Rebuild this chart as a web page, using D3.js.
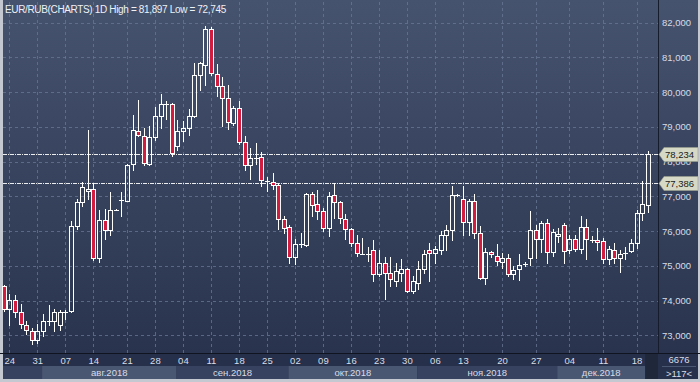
<!DOCTYPE html>
<html><head><meta charset="utf-8">
<script src="https://cdn.jsdelivr.net/npm/d3@7/dist/d3.min.js"></script>
<style>html,body{margin:0;padding:0;background:#c5cad3;}svg{display:block;}</style>
</head><body><svg id="c" width="700" height="382"></svg>
<script>
const openV  = [74.42,73.75,74.01,73.67,73.31,73.11,72.87,73.13,73.41,73.42,73.30,73.67,73.69,76.16,76.84,77.16,77.22,75.22,76.33,76.03,76.62,76.90,76.88,77.93,78.89,78.73,77.93,78.71,79.30,79.66,79.66,78.44,78.89,78.97,79.30,80.50,80.78,81.81,80.52,80.18,79.83,79.11,79.54,78.56,77.89,78.10,78.13,77.43,77.41,77.34,76.35,76.12,75.26,75.62,75.59,77.08,76.77,76.57,76.10,77.05,76.84,76.35,76.05,75.67,75.35,75.34,75.47,74.76,75.09,74.78,74.56,74.78,74.90,74.28,74.52,74.92,75.47,75.38,75.47,75.88,76.02,77.03,76.91,76.27,76.86,75.95,74.66,75.40,75.28,75.12,75.23,74.76,74.90,75.05,75.23,76.03,75.76,76.22,75.41,75.86,76.17,75.45,75.78,75.49,76.12,75.78,75.73,75.71,75.19,75.47,75.23,75.37,75.44,75.66,76.53,76.74];
const highV  = [74.45,74.18,74.15,73.91,73.42,73.21,73.32,73.61,73.87,73.75,73.73,73.73,76.29,76.91,77.41,78.92,77.39,76.60,76.64,77.12,76.63,77.12,77.94,79.35,79.78,78.97,79.03,79.57,79.95,79.74,79.68,79.21,79.16,79.51,80.83,80.88,81.897,81.89,80.80,80.43,80.21,79.59,79.75,78.75,78.39,78.55,78.29,77.56,77.67,77.39,76.43,76.17,75.76,75.95,77.10,77.12,77.18,76.67,77.12,77.39,76.88,76.48,76.10,75.90,75.79,75.53,75.74,75.47,75.26,75.26,75.09,75.21,74.95,74.71,75.14,75.47,75.66,75.57,76.00,76.19,77.29,77.08,77.31,76.91,77.08,76.14,75.52,75.44,75.62,75.37,75.33,75.00,75.33,75.11,76.59,76.19,76.29,76.35,76.05,76.10,76.22,75.90,75.90,76.43,76.35,75.86,76.10,75.81,75.57,75.65,75.47,75.54,75.78,76.60,77.45,78.30];
const lowV   = [73.70,73.29,73.53,73.22,73.03,72.745,72.79,72.99,73.29,73.13,73.16,73.48,73.66,76.05,76.72,76.91,75.17,75.11,75.76,75.90,76.60,76.43,76.86,77.77,78.73,77.89,77.89,78.63,78.97,79.22,78.15,78.34,78.58,78.78,79.28,80.05,80.21,80.50,79.88,79.03,78.94,79.06,78.52,77.77,77.50,77.94,77.31,77.15,77.20,76.07,75.95,75.09,75.04,75.54,75.57,76.43,76.35,76.00,75.86,76.38,76.22,75.76,75.57,75.28,75.33,75.14,74.56,74.71,74.04,74.42,74.42,74.56,74.25,74.23,74.34,74.80,74.56,75.09,75.33,75.47,75.74,77.00,75.88,75.90,75.81,74.61,74.47,75.26,75.01,74.95,74.71,74.61,74.59,75.00,75.01,75.23,75.40,75.09,75.28,75.69,75.09,75.38,75.43,75.38,75.21,75.68,75.47,75.09,75.04,75.09,74.82,75.21,75.41,75.51,76.31,76.55];
const closeV = [73.75,74.01,73.68,73.32,73.15,72.87,73.13,73.42,73.45,73.68,73.68,73.69,76.16,76.84,77.26,77.22,75.22,76.33,76.03,76.62,76.61,76.91,77.91,78.92,78.78,77.96,78.71,79.30,79.66,79.67,78.25,78.89,78.97,79.30,80.50,80.83,81.81,80.55,80.19,79.83,79.14,79.54,78.56,77.89,78.11,78.11,77.46,77.44,77.34,76.35,76.10,75.26,75.64,75.63,77.08,76.75,76.57,76.10,77.00,76.84,76.38,76.05,75.67,75.38,75.34,75.35,74.76,75.09,74.78,74.63,74.85,74.90,74.28,74.55,74.92,75.35,75.38,75.49,75.88,76.02,77.05,77.04,76.27,76.86,75.95,74.66,75.41,75.33,75.14,75.23,74.76,74.88,75.02,75.06,76.03,75.76,76.22,75.41,75.98,75.93,75.44,75.76,75.49,76.12,75.78,75.73,75.68,75.19,75.49,75.23,75.35,75.38,75.66,76.53,76.77,78.234];

const tickLabels = ["24","31","07","14","21","28","04","11","18","25","02","09","16","23","30","06","13","20","27","04","11","18"];
const tickIndex  = [1,6,11,16,22,27,32,37,42,47,52,57,62,67,72,77,82,89,95,101,107,113];
const monthLabels = ["","авг.2018","сен.2018","окт.2018","ноя.2018","дек.2018"];
const monthStart  = [0,7,31,51,74,99];
const yTicks = [73,74,75,76,77,78,79,80,81,82];
const refLines = [78.234, 77.386];
const titleText = "EUR/RUB(CHARTS) 1D High = 81,897 Low = 72,745";
const barCount = "6676";
const visibleBars = ">117<";

const W = 700, H = 382;
const plotL = 3, plotR = 658, plotT = 0, plotB = 353;
const svg = d3.select("#c");
const fmt = v => d3.format(",.3f")(v).replace(/\./g,"#").replace(/,/g,",").replace("#",",").replace(/^(\d+),(\d{3})$/, "$1,$2");
const fmtTick = v => (v).toFixed(3).replace(".", ",");

const x = d3.scaleLinear().domain([0, 115]).range([3.7, 647.7]);
const y = d3.scaleLinear().domain([73, 82]).range([335.3, 22.7]);

const defs = svg.append("defs");
const g1 = defs.append("linearGradient").attr("id","bg").attr("x1",0).attr("y1",0).attr("x2",0).attr("y2",1);
g1.append("stop").attr("offset","0%").attr("stop-color","#46536f");
g1.append("stop").attr("offset","100%").attr("stop-color","#29334d");

// frame
svg.append("rect").attr("x",0).attr("y",0).attr("width",W).attr("height",H).attr("fill","#c3c8d1");
// plot + right panel background
svg.append("rect").attr("x",plotL).attr("y",0).attr("width",698-plotL).attr("height",plotB).attr("fill","url(#bg)");

// grid
const grid = svg.append("g").attr("shape-rendering","crispEdges");
grid.selectAll("line.h").data(yTicks).join("line")
  .attr("x1",plotL).attr("x2",plotR).attr("y1",d=>Math.round(y(d))+0.5).attr("y2",d=>Math.round(y(d))+0.5)
  .attr("stroke","#6a7896").attr("stroke-opacity",0.75).attr("stroke-dasharray","3,3");
grid.selectAll("line.v").data(tickIndex).join("line")
  .attr("x1",d=>Math.round(x(d))+0.5).attr("x2",d=>Math.round(x(d))+0.5).attr("y1",2).attr("y2",plotB)
  .attr("stroke","#6a7896").attr("stroke-opacity",0.75).attr("stroke-dasharray","3,3");

// reference dash-dot lines
svg.append("g").selectAll("line").data(refLines).join("line")
  .attr("x1",plotL).attr("x2",plotR).attr("y1",d=>Math.round(y(d))+0.5).attr("y2",d=>Math.round(y(d))+0.5)
  .attr("stroke","#ffffff").attr("stroke-opacity",0.9).attr("stroke-dasharray","4,1,1,1").attr("shape-rendering","crispEdges");

// candles
const data = openV.map((o,i)=>({i,o,h:highV[i],l:lowV[i],c:closeV[i]}));
const cg = svg.append("g").attr("shape-rendering","crispEdges");
data.forEach(d=>{
  const cx = Math.round(x(d.i));
  const top = Math.round(y(Math.max(d.o,d.c)));
  const bot = Math.round(y(Math.min(d.o,d.c)));
  const yh = Math.round(y(d.h)), yl = Math.round(y(d.l));
  const up = d.c >= d.o;
  if (bot - top < 2) {
    const yy = Math.round((top+bot)/2);
    cg.append("line").attr("x1",cx+0.5).attr("x2",cx+0.5).attr("y1",yh).attr("y2",yl+1).attr("stroke","#fff");
    cg.append("line").attr("x1",cx-2).attr("x2",cx+3).attr("y1",yy+0.5).attr("y2",yy+0.5).attr("stroke","#fff");
  } else {
    if (yh < top) cg.append("line").attr("x1",cx+0.5).attr("x2",cx+0.5).attr("y1",yh).attr("y2",top).attr("stroke","#fff");
    if (yl > bot) cg.append("line").attr("x1",cx+0.5).attr("x2",cx+0.5).attr("y1",bot).attr("y2",yl+1).attr("stroke","#fff");
    cg.append("rect").attr("x",cx-1.5).attr("y",top+0.5).attr("width",4).attr("height",bot-top)
      .attr("fill", up ? "none" : "#d21c40").attr("stroke","#fff").attr("stroke-width",1);
  }
});

// right panel
svg.append("line").attr("x1",658.5).attr("x2",658.5).attr("y1",0).attr("y2",379).attr("stroke","#151c2c").attr("stroke-width",1);
svg.append("g").selectAll("text").data(yTicks).join("text")
  .attr("x",662).attr("y",d=>y(d)+3.5).text(d=>d3.format(",")(d*1000).replace(",", ","))
  .attr("font-family","'Liberation Sans', Arial, sans-serif").attr("font-size","9.5px").attr("fill","#d8dde6");

// price tags
const tags = svg.append("g");
refLines.forEach(v=>{
  const yy = Math.round(y(v));
  tags.append("path").attr("d",`M659,${yy+0.5} L664,${yy-6.5} L698,${yy-6.5} L698,${yy+7.5} L664,${yy+7.5} Z`)
    .attr("fill","#d6d9c6").attr("stroke","#9aa08c").attr("stroke-width",0.6);
  tags.append("text").attr("x",665).attr("y",yy+4).text(fmtTick(v))
    .attr("font-family","'Liberation Sans', Arial, sans-serif").attr("font-size","9.5px").attr("fill","#1a1a1a");
});

// x axis rows
svg.append("rect").attr("x",plotL).attr("y",plotB).attr("width",698-plotL).attr("height",26).attr("fill","#27304a");
svg.append("line").attr("x1",0).attr("x2",W).attr("y1",353.5).attr("y2",353.5).attr("stroke","#0f1420");
const mEnd = monthStart.slice(1).map(s=>x(s)-0.8).concat([x(115)-2.5]);
const bands = svg.append("g");
monthStart.forEach((s,k)=>{
  const x0 = k===0 ? plotL : x(s)-0.8;
  const x1 = mEnd[k];
  bands.append("rect").attr("x",x0).attr("y",366).attr("width",x1-x0).attr("height",13)
    .attr("fill", k%2===1 ? "#4a5773" : "#364260");
  if (monthLabels[k]) bands.append("text").attr("x",(x0+x1)/2).attr("y",376).attr("text-anchor","middle")
    .text(monthLabels[k]).attr("font-family","'Liberation Sans', Arial, sans-serif").attr("font-size","9.5px").attr("fill","#d8dde6");
});
svg.append("rect").attr("x",x(115)-2.5).attr("y",354).attr("width",658-(x(115)-2.5)).attr("height",25).attr("fill","#1f273b");
svg.append("g").selectAll("text").data(tickIndex).join("text")
  .attr("x",d=>x(d)+0.5).attr("y",364).attr("text-anchor","middle").text((d,k)=>tickLabels[k])
  .attr("font-family","'Liberation Sans', Arial, sans-serif").attr("font-size","9.5px").attr("fill","#d8dde6");
// right bottom panel
svg.append("rect").attr("x",659).attr("y",354).attr("width",39).attr("height",25).attr("fill","#27304a");
svg.append("text").attr("x",679).attr("y",363).attr("text-anchor","middle").text(barCount)
  .attr("font-family","'Liberation Sans', Arial, sans-serif").attr("font-size","9.5px").attr("fill","#d8dde6");
svg.append("line").attr("x1",662).attr("x2",696).attr("y1",366.5).attr("y2",366.5).attr("stroke","#4a5773");
svg.append("text").attr("x",679).attr("y",377).attr("text-anchor","middle").text(visibleBars)
  .attr("font-family","'Liberation Sans', Arial, sans-serif").attr("font-size","9.5px").attr("fill","#d8dde6");

// title
svg.append("text").attr("x",5).attr("y",13).text(titleText)
  .attr("font-family","'Liberation Sans', Arial, sans-serif").attr("font-size","10px").attr("letter-spacing","-0.35px").attr("fill","#eef1f5");
</script></body></html>
